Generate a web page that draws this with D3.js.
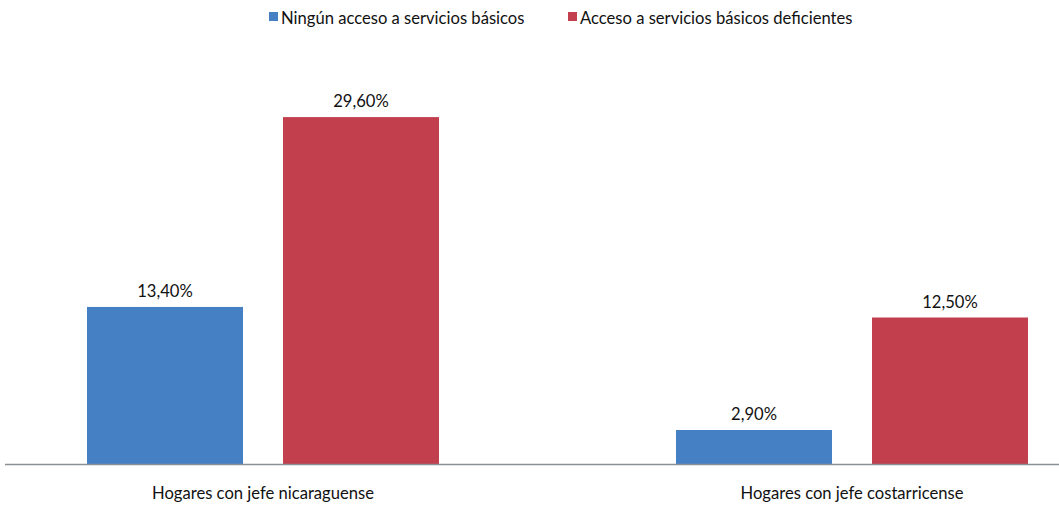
<!DOCTYPE html>
<html>
<head>
<meta charset="utf-8">
<script src="https://cdn.jsdelivr.net/npm/d3@7"></script>
<style>
  html, body { margin: 0; padding: 0; background: #fff; }
  svg { display: block; font-family: Lato, "Open Sans", sans-serif; }
</style>
</head>
<body>
<svg id="chart" width="1059" height="505"></svg>
<script>
// Hogares según acceso a servicios básicos, por nacionalidad del jefe
const categories = ["Hogares con jefe nicaraguense", "Hogares con jefe costarricense"];
const seriesNames = ["Ningún acceso a servicios básicos", "Acceso a servicios básicos deficientes"];
const ningunAcceso = [13.4, 2.9];
const accesoDeficiente = [29.6, 12.5];
const seriesColors = ["#4680c4", "#c23f4e"];

const values = [ningunAcceso, accesoDeficiente];
const fmt = v => v.toFixed(2).replace(".", ",") + "%";
const fontSize = 16.6;

const svg = d3.select("#chart");
const baseY = 464;

const y = d3.scaleLinear().domain([0, 35]).range([baseY, baseY - 35 * 11.72]);
const x0 = d3.scaleBand().domain(categories).range([-31.5, 1146.5]).padding(0);
const x1 = d3.scaleBand().domain(seriesNames).range([118.5, 470.5])
  .paddingInner(0.2041).paddingOuter(0);

// bars
const groups = svg.append("g").selectAll("g")
  .data(categories)
  .join("g")
  .attr("transform", d => `translate(${x0(d)},0)`);

groups.selectAll("rect")
  .data((c, ci) => seriesNames.map((s, si) => ({ s, si, v: values[si][ci] })))
  .join("rect")
  .attr("x", d => x1(d.s))
  .attr("y", d => y(d.v))
  .attr("width", x1.bandwidth())
  .attr("height", d => baseY - y(d.v))
  .attr("fill", d => seriesColors[d.si]);

// value labels
groups.selectAll("text.val")
  .data((c, ci) => seriesNames.map((s, si) => ({ s, si, v: values[si][ci] })))
  .join("text")
  .attr("class", "val")
  .attr("x", d => x1(d.s) + x1.bandwidth() / 2)
  .attr("y", d => y(d.v) - 10)
  .attr("text-anchor", "middle")
  .attr("font-size", fontSize)
  .attr("fill", "#111")
  .text(d => fmt(d.v));

// category axis line
svg.append("line")
  .attr("x1", 5).attr("x2", 1059)
  .attr("y1", baseY + 0.5).attr("y2", baseY + 0.5)
  .attr("stroke", "#8a8f96").attr("stroke-width", 1.3);

// category labels
svg.append("g").selectAll("text")
  .data(categories)
  .join("text")
  .attr("x", d => x0(d) + 118.5 + 176)
  .attr("y", 499)
  .attr("text-anchor", "middle")
  .attr("font-size", fontSize)
  .attr("fill", "#111")
  .text(d => d);

// legend
const legendX = [269, 568];
const legend = svg.append("g").selectAll("g")
  .data(seriesNames)
  .join("g")
  .attr("transform", (d, i) => `translate(${legendX[i]},0)`);
legend.append("rect")
  .attr("x", 0).attr("y", 12)
  .attr("width", 9).attr("height", 9)
  .attr("fill", (d, i) => seriesColors[i]);
legend.append("text")
  .attr("x", 12).attr("y", 24)
  .attr("font-size", fontSize)
  .attr("fill", "#111")
  .text(d => d);
</script>
</body>
</html>
